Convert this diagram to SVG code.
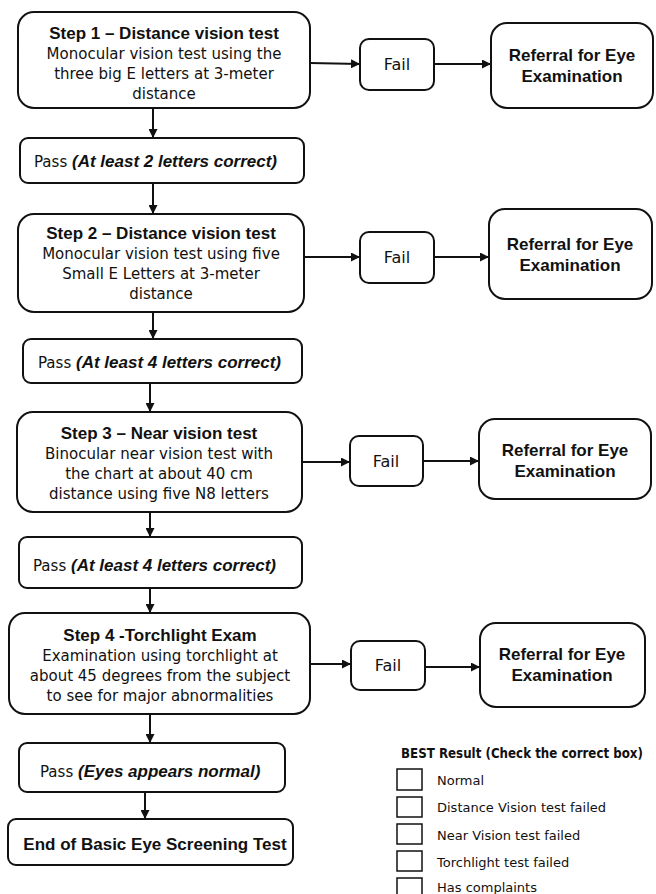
<svg xmlns="http://www.w3.org/2000/svg" width="656" height="894" viewBox="0 0 656 894">
<defs>
<marker id="ah" viewBox="0 0 10 10" refX="10" refY="5" markerWidth="9" markerHeight="9" markerUnits="userSpaceOnUse" orient="auto">
<path d="M0,0 L10,5 L0,10 z" fill="#111"/>
</marker>
<style>
.box{fill:#fff;stroke:#111;stroke-width:2}
.t{font-family:"Liberation Sans",Arial,sans-serif;font-weight:bold;font-size:17px;fill:#111;text-anchor:middle}
.b{font-family:"DejaVu Sans",sans-serif;font-size:15px;fill:#111;text-anchor:middle}
.f{font-family:"DejaVu Sans",sans-serif;font-size:16px;fill:#111;text-anchor:middle}
.r{font-family:"Liberation Sans",Arial,sans-serif;font-weight:bold;font-size:17px;fill:#111;text-anchor:middle}
.p{font-family:"DejaVu Sans",sans-serif;font-size:15px;fill:#111}
.pi{font-family:"Liberation Sans",Arial,sans-serif;font-weight:bold;font-style:italic;font-size:17px}
.l{font-family:"DejaVu Sans",sans-serif;font-size:13px;fill:#111}
.lt{font-family:"DejaVu Sans Condensed","DejaVu Sans",sans-serif;font-weight:bold;font-size:13.2px;fill:#111}
.lb{fill:#fff;stroke:#111;stroke-width:1.5}
.c{stroke:#111;stroke-width:2;fill:none;marker-end:url(#ah)}
</style>
</defs>
<g id="connectors">
<line class="c" x1="153" y1="108" x2="153" y2="138"/>
<line class="c" x1="153" y1="183" x2="153" y2="214"/>
<line class="c" x1="153" y1="312" x2="153" y2="339"/>
<line class="c" x1="150" y1="383" x2="150" y2="412"/>
<line class="c" x1="150" y1="512" x2="150" y2="537"/>
<line class="c" x1="150" y1="588" x2="150" y2="613"/>
<line class="c" x1="150" y1="714" x2="150" y2="743"/>
<line class="c" x1="145" y1="792" x2="145" y2="819"/>
<line class="c" x1="310" y1="63" x2="360" y2="64"/>
<line class="c" x1="434" y1="64" x2="491" y2="64"/>
<line class="c" x1="304" y1="257" x2="360" y2="257"/>
<line class="c" x1="434" y1="257" x2="489" y2="257"/>
<line class="c" x1="302" y1="462" x2="350" y2="462"/>
<line class="c" x1="423" y1="461" x2="479" y2="461"/>
<line class="c" x1="310" y1="664" x2="351" y2="664"/>
<line class="c" x1="425" y1="667" x2="480" y2="667"/>
</g>
<g id="step1">
<rect class="box" x="18" y="12" width="292" height="96" rx="16"/>
<text class="t" x="164" y="39">Step 1 – Distance vision test</text>
<text class="b" x="164" y="59">Monocular vision test using the</text>
<text class="b" x="164" y="79">three big E letters at 3-meter</text>
<text class="b" x="164" y="99">distance</text>
</g>
<g id="fail1">
<rect class="box" x="360" y="39" width="74" height="51" rx="9"/>
<text class="f" x="397" y="70">Fail</text>
</g>
<g id="ref1">
<rect class="box" x="491" y="23" width="162" height="85" rx="16"/>
<text class="r" x="572" y="61">Referral for Eye</text>
<text class="r" x="572" y="82">Examination</text>
</g>
<g id="pass1">
<rect class="box" x="20" y="138" width="284" height="45" rx="8"/>
<text class="p" x="34" y="167">Pass <tspan class="pi">(At least 2 letters correct)</tspan></text>
</g>
<g id="step2">
<rect class="box" x="18" y="214" width="286" height="98" rx="16"/>
<text class="t" x="161" y="239">Step 2 – Distance vision test</text>
<text class="b" x="161" y="259">Monocular vision test using five</text>
<text class="b" x="161" y="279">Small E Letters at 3-meter</text>
<text class="b" x="161" y="299">distance</text>
</g>
<g id="fail2">
<rect class="box" x="360" y="232" width="74" height="51" rx="9"/>
<text class="f" x="397" y="263">Fail</text>
</g>
<g id="ref2">
<rect class="box" x="489" y="209" width="163" height="90" rx="16"/>
<text class="r" x="570" y="250">Referral for Eye</text>
<text class="r" x="570" y="271">Examination</text>
</g>
<g id="pass2">
<rect class="box" x="23" y="339" width="279" height="44" rx="8"/>
<text class="p" x="38" y="368">Pass <tspan class="pi">(At least 4 letters correct)</tspan></text>
</g>
<g id="step3">
<rect class="box" x="17" y="412" width="285" height="100" rx="16"/>
<text class="t" x="159" y="439">Step 3 – Near vision test</text>
<text class="b" x="159" y="459">Binocular near vision test with</text>
<text class="b" x="159" y="479">the chart at about 40 cm</text>
<text class="b" x="159" y="499">distance using five N8 letters</text>
</g>
<g id="fail3">
<rect class="box" x="350" y="436" width="73" height="50" rx="9"/>
<text class="f" x="386" y="467">Fail</text>
</g>
<g id="ref3">
<rect class="box" x="479" y="419" width="172" height="80" rx="16"/>
<text class="r" x="565" y="456">Referral for Eye</text>
<text class="r" x="565" y="477">Examination</text>
</g>
<g id="pass3">
<rect class="box" x="19" y="537" width="283" height="51" rx="8"/>
<text class="p" x="33" y="571">Pass <tspan class="pi">(At least 4 letters correct)</tspan></text>
</g>
<g id="step4">
<rect class="box" x="9" y="613" width="301" height="101" rx="16"/>
<text class="t" x="160" y="641">Step 4 -Torchlight Exam</text>
<text class="b" x="160" y="661">Examination using torchlight at</text>
<text class="b" x="160" y="681">about 45 degrees from the subject</text>
<text class="b" x="160" y="701">to see for major abnormalities</text>
</g>
<g id="fail4">
<rect class="box" x="351" y="641" width="74" height="49" rx="9"/>
<text class="f" x="388" y="671">Fail</text>
</g>
<g id="ref4">
<rect class="box" x="480" y="623" width="165" height="84" rx="16"/>
<text class="r" x="562" y="660">Referral for Eye</text>
<text class="r" x="562" y="681">Examination</text>
</g>
<g id="pass4">
<rect class="box" x="19" y="743" width="266" height="49" rx="8"/>
<text class="p" x="40" y="777">Pass <tspan class="pi">(Eyes appears normal)</tspan></text>
</g>
<g id="end">
<rect class="box" x="8" y="819" width="285" height="46" rx="8"/>
<text class="r" x="155" y="850">End of Basic Eye Screening Test</text>
</g>
<g id="legend">
<text class="lt" x="401" y="758">BEST Result (Check the correct box)</text>
<rect class="lb" x="397" y="769" width="25" height="21"/>
<text class="l" x="437" y="785">Normal</text>
<rect class="lb" x="397" y="797" width="25" height="20"/>
<text class="l" x="437" y="812">Distance Vision test failed</text>
<rect class="lb" x="397" y="824" width="25" height="20"/>
<text class="l" x="437" y="840">Near Vision test failed</text>
<rect class="lb" x="397" y="851" width="25" height="20"/>
<text class="l" x="437" y="867">Torchlight test failed</text>
<rect class="lb" x="397" y="878" width="25" height="20"/>
<text class="l" x="437" y="892">Has complaints</text>
</g>
</svg>
